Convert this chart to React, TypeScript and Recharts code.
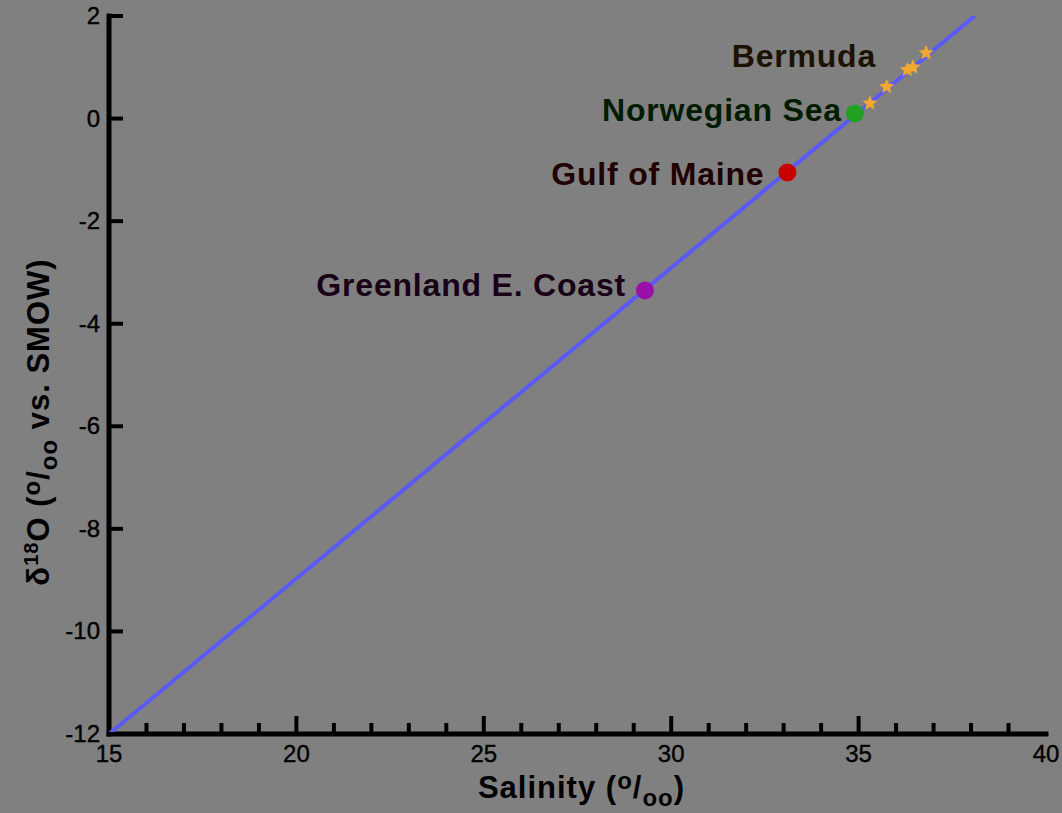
import { ScatterChart, Scatter, XAxis, YAxis, Label } from 'recharts';

const xTicks = [15, 16, 17, 18, 19, 20, 21, 22, 23, 24, 25, 26, 27, 28, 29, 30, 31, 32, 33, 34, 35, 36, 37, 38, 39, 40];
const yTicks = [-12, -10, -8, -6, -4, -2, 0, 2];

// mixing line end points
const lineSalinity = [15, 38.1];
const lineD18O = [-12, 2];

const siteNames = ['Greenland E. Coast', 'Gulf of Maine', 'Norwegian Sea'];
const siteSalinity = [29.3, 33.1, 34.9];
const siteD18O = [-3.35, -1.05, 0.1];

const bermudaName = 'Bermuda';
const bermudaSalinity = [35.3, 35.75, 36.3, 36.45, 36.8];
const bermudaD18O = [0.3, 0.62, 0.95, 1.0, 1.28];

const FONT = '"Liberation Sans", Arial, sans-serif';
const siteColors = ['#9a10a8', '#c80000', '#22a022'];
const siteTextColors = ['#180016', '#200000', '#001c00'];
const labelDx = [-19, -23, -13];
const labelDy = [6, 13, 8];

const lineData = lineSalinity.map((x, i) => ({ x, y: lineD18O[i] }));
const bermudaData = bermudaSalinity.map((x, i) => ({ x, y: bermudaD18O[i] }));

const XTick = ({ x, y, payload }: any) => {
  const v = payload.value;
  const major = v % 5 === 0;
  return (
    <g>
      {v !== 15 && v !== 40 && <line x1={x} x2={x} y1={y} y2={y - (major ? 18 : 11)} stroke="#000" strokeWidth={4} />}
      {major && (
        <text x={x} y={y + 28} textAnchor="middle" fontSize={24} fontFamily={FONT} fill="#000" stroke="#000" strokeWidth={0.4}>
          {v}
        </text>
      )}
    </g>
  );
};

const YTick = ({ x, y, payload }: any) => (
  <g>
    <line x1={x} x2={x + 14} y1={y} y2={y} stroke="#000" strokeWidth={4} />
    <text x={x - 9} y={y + 8} textAnchor="end" fontSize={24} fontFamily={FONT} fill="#000" stroke="#000" strokeWidth={0.4}>
      {payload.value}
    </text>
  </g>
);

const RTick = ({ x, y }: any) => <line x1={x} x2={x - 15} y1={y} y2={y} stroke="#000" strokeWidth={4} />;

const starPath = (cx: number, cy: number, r: number) => {
  const pts: string[] = [];
  for (let k = 0; k < 10; k++) {
    const a = -Math.PI / 2 + (k * Math.PI) / 5;
    const rr = k % 2 === 0 ? r : r * 0.45;
    pts.push(`${cx + rr * Math.cos(a)},${cy + rr * Math.sin(a)}`);
  }
  return pts.join(' ');
};

const XTitle = ({ viewBox }: any) => (
  <text x={viewBox.x + viewBox.width / 2 + 4} y={viewBox.y + 64} textAnchor="middle" fontSize={31} letterSpacing={1} fontWeight="bold" fontFamily={FONT} fill="#000">
    Salinity (<tspan dy={-9} fontSize={24}>o</tspan>
    <tspan dy={9}>/</tspan>
    <tspan dy={8} fontSize={24}>oo</tspan>
    <tspan dy={-8}>)</tspan>
  </text>
);

const YTitle = ({ viewBox }: any) => {
  const cx = viewBox.x + 49;
  const cy = viewBox.y + viewBox.height / 2 + 47;
  return (
    <text x={cx} y={cy} transform={`rotate(-90 ${cx} ${cy})`} textAnchor="middle" fontSize={31} letterSpacing={1} fontWeight="bold" fontFamily={FONT} fill="#000">
      δ<tspan dy={-11} fontSize={20}>18</tspan>
      <tspan dy={11}>O (</tspan>
      <tspan dy={-9} fontSize={24}>o</tspan>
      <tspan dy={9}>/</tspan>
      <tspan dy={8} fontSize={24}>oo</tspan>
      <tspan dy={-8}> vs. SMOW)</tspan>
    </text>
  );
};

const labelStyle = { fontSize: 32, letterSpacing: 0.8, fontWeight: 'bold' as const, fontFamily: FONT };

export default function App() {
  return (
    <div style={{ position: 'absolute', left: 0, top: 0, width: 1062, height: 813, background: '#808080' }}>
      <ScatterChart width={1062} height={813} margin={{ top: 16, right: 16, bottom: 0, left: 0 }}>
        <XAxis
          xAxisId={0}
          dataKey="x"
          type="number"
          domain={[15, 40]}
          ticks={xTicks}
          interval={0}
          height={79}
          tickSize={0}
          tickMargin={0}
          tickLine={false}
          tick={<XTick />}
          axisLine={{ stroke: '#000', strokeWidth: 5, strokeLinecap: 'square' }}
          allowDataOverflow
        >
          <Label content={<XTitle />} />
        </XAxis>
        <XAxis
          xAxisId="top"
          orientation="top"
          dataKey="x"
          type="number"
          domain={[15, 40]}
          height={0}
          tick={false}
          tickLine={false}
          axisLine={{ stroke: '#000', strokeWidth: 5, strokeLinecap: 'square' }}
          allowDataOverflow
        />
        <YAxis
          yAxisId={0}
          dataKey="y"
          type="number"
          domain={[-12, 2]}
          ticks={yTicks}
          interval={0}
          width={109}
          tickSize={0}
          tickMargin={0}
          tickLine={false}
          tick={<YTick />}
          axisLine={{ stroke: '#000', strokeWidth: 5, strokeLinecap: 'square' }}
          allowDataOverflow
        >
          <Label content={<YTitle />} />
        </YAxis>
        <YAxis
          yAxisId="r"
          orientation="right"
          dataKey="y"
          type="number"
          domain={[-12, 2]}
          ticks={yTicks.slice(1, -1)}
          interval={0}
          width={0}
          tickSize={0}
          tickMargin={0}
          tickLine={false}
          tick={<RTick />}
          axisLine={{ stroke: '#000', strokeWidth: 5, strokeLinecap: 'square' }}
          allowDataOverflow
        />
        <Scatter
          data={lineData}
          line={{ stroke: '#5a5af8', strokeWidth: 4 }}
          lineType="joint"
          shape={() => <g />}
          isAnimationActive={false}
        />
        <Scatter
          data={bermudaData}
          isAnimationActive={false}
          shape={(p: any) => (
            <g>
              <polygon points={starPath(p.cx, p.cy, 8)} fill="#f0a830" />
              {p.index === bermudaData.length - 1 && (
                <text x={p.cx - 50} y={p.cy + 14} textAnchor="end" {...labelStyle} fill="#1c1200">
                  {bermudaName}
                </text>
              )}
            </g>
          )}
        />
        {siteNames.map((name, i) => (
          <Scatter
            key={name}
            data={[{ x: siteSalinity[i], y: siteD18O[i] }]}
            isAnimationActive={false}
            shape={(p: any) => (
              <g>
                <circle cx={p.cx} cy={p.cy} r={9} fill={siteColors[i]} />
                <text x={p.cx + labelDx[i]} y={p.cy + labelDy[i]} textAnchor="end" {...labelStyle} fill={siteTextColors[i]}>
                  {name}
                </text>
              </g>
            )}
          />
        ))}
      </ScatterChart>
    </div>
  );
}
